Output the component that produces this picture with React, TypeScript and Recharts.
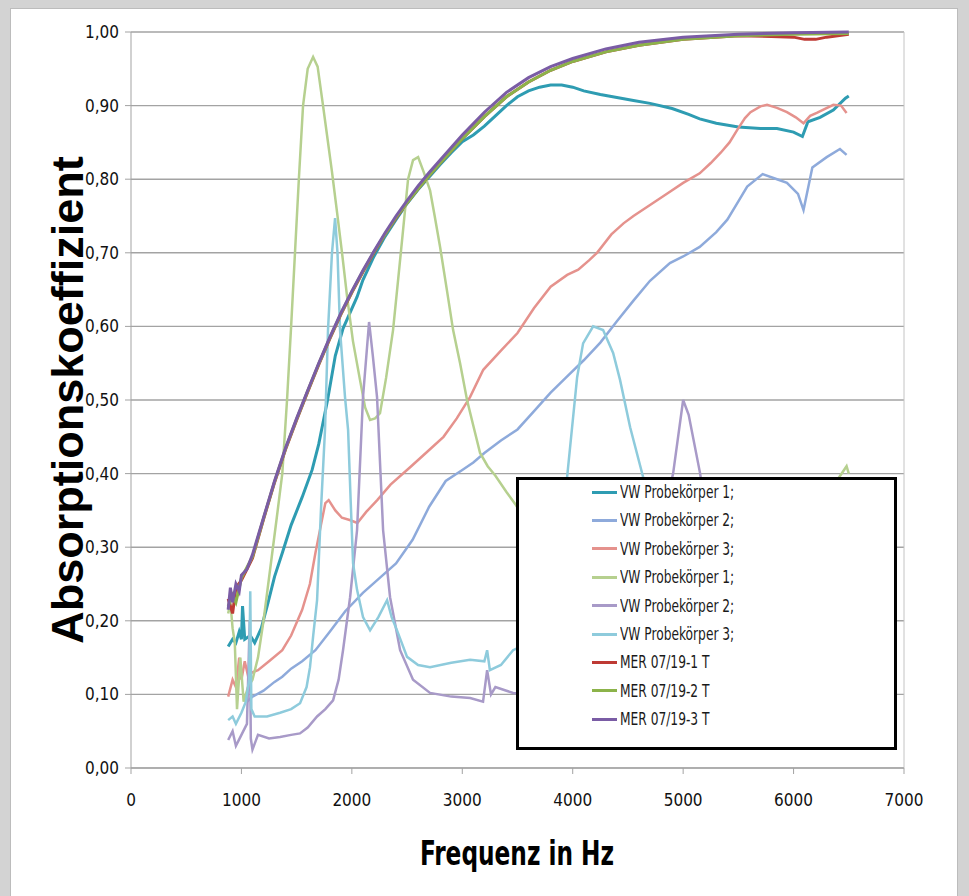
import React from 'react';
import { LineChart, Line, XAxis, YAxis, CartesianGrid, Legend, ReferenceLine } from 'recharts';

type Pt = [number, number];

const xTicks = [0, 1000, 2000, 3000, 4000, 5000, 6000, 7000];
const yTicks = [0, 0.1, 0.2, 0.3, 0.4, 0.5, 0.6, 0.7, 0.8, 0.9, 1.0];

// VW Probekörper 1; (teal)
const vwProbe1: Pt[] = [
  [880, 0.165], [920, 0.175], [950, 0.17], [980, 0.185], [1000, 0.175], [1010, 0.22], [1030, 0.175],
  [1080, 0.18], [1120, 0.17], [1180, 0.19], [1240, 0.224], [1300, 0.26], [1370, 0.292], [1450, 0.33],
  [1550, 0.368], [1640, 0.405], [1700, 0.44], [1780, 0.5], [1850, 0.56], [1920, 0.597], [2047, 0.64],
  [2100, 0.663], [2200, 0.695], [2300, 0.722], [2400, 0.745], [2500, 0.767], [2600, 0.786], [2700, 0.803],
  [2800, 0.82], [2900, 0.836], [3000, 0.851], [3100, 0.86], [3200, 0.872], [3300, 0.886], [3400, 0.9],
  [3500, 0.912], [3600, 0.92], [3700, 0.925], [3800, 0.928], [3900, 0.928], [4000, 0.925], [4100, 0.92],
  [4250, 0.915], [4400, 0.911], [4550, 0.907], [4700, 0.903], [4900, 0.896], [5050, 0.888], [5150, 0.882],
  [5300, 0.876], [5500, 0.871], [5700, 0.869], [5850, 0.869], [6000, 0.864], [6080, 0.858], [6130, 0.878],
  [6240, 0.884], [6360, 0.894], [6470, 0.91], [6500, 0.913],
];

// VW Probekörper 2; (light blue)
const vwProbe2: Pt[] = [
  [1050, 0.09], [1100, 0.097], [1200, 0.105], [1300, 0.117], [1370, 0.124], [1450, 0.135], [1550, 0.145],
  [1670, 0.16], [1800, 0.185], [1940, 0.213], [2100, 0.238], [2250, 0.258], [2400, 0.278], [2550, 0.31],
  [2700, 0.355], [2850, 0.39], [3000, 0.405], [3100, 0.415], [3200, 0.428], [3350, 0.445], [3500, 0.46],
  [3650, 0.485], [3800, 0.51], [3950, 0.532], [4100, 0.554], [4250, 0.578], [4400, 0.607], [4550, 0.635],
  [4700, 0.662], [4880, 0.686], [5000, 0.695], [5150, 0.708], [5300, 0.728], [5400, 0.745], [5500, 0.77],
  [5580, 0.79], [5720, 0.807], [5850, 0.8], [5940, 0.795], [6040, 0.78], [6090, 0.758], [6170, 0.816],
  [6300, 0.83], [6420, 0.841], [6480, 0.833],
];

// VW Probekörper 3; (salmon)
const vwProbe3: Pt[] = [
  [880, 0.097], [920, 0.12], [950, 0.11], [980, 0.15], [1000, 0.12], [1030, 0.145], [1060, 0.125],
  [1100, 0.13], [1150, 0.133], [1250, 0.145], [1370, 0.16], [1450, 0.18], [1550, 0.215], [1620, 0.25],
  [1670, 0.292], [1720, 0.33], [1760, 0.36], [1790, 0.364], [1850, 0.35], [1910, 0.34], [1980, 0.337],
  [2050, 0.333], [2130, 0.348], [2230, 0.364], [2350, 0.385], [2530, 0.409], [2700, 0.432], [2830, 0.45],
  [2950, 0.475], [3070, 0.504], [3190, 0.541], [3350, 0.567], [3500, 0.591], [3650, 0.625], [3800, 0.654],
  [3950, 0.67], [4050, 0.677], [4150, 0.69], [4220, 0.7], [4350, 0.725], [4460, 0.74], [4550, 0.75],
  [4700, 0.765], [4860, 0.781], [5000, 0.795], [5150, 0.808], [5250, 0.822], [5340, 0.836], [5420, 0.85],
  [5490, 0.867], [5560, 0.883], [5610, 0.891], [5700, 0.899], [5760, 0.901], [5850, 0.897], [5940, 0.891],
  [6020, 0.884], [6090, 0.876], [6150, 0.886], [6210, 0.89], [6360, 0.901], [6430, 0.9], [6480, 0.89],
];

// VW Probekörper 1; (light green, second set)
const vwProbe1b: Pt[] = [
  [880, 0.21], [900, 0.225], [920, 0.19], [940, 0.17], [960, 0.08], [990, 0.15], [1020, 0.09],
  [1060, 0.11], [1100, 0.12], [1150, 0.15], [1200, 0.2], [1260, 0.27], [1320, 0.34], [1370, 0.4],
  [1413, 0.5], [1450, 0.6], [1485, 0.7], [1520, 0.8], [1558, 0.9], [1600, 0.95], [1649, 0.966],
  [1690, 0.953], [1739, 0.9], [1775, 0.86], [1820, 0.81], [1866, 0.755], [1911, 0.7], [1957, 0.64],
  [2010, 0.58], [2074, 0.527], [2120, 0.49], [2165, 0.473], [2210, 0.475], [2255, 0.482], [2310, 0.53],
  [2373, 0.595], [2420, 0.665], [2464, 0.731], [2509, 0.8], [2554, 0.826], [2600, 0.83], [2650, 0.81],
  [2708, 0.785], [2750, 0.75], [2799, 0.708], [2860, 0.65], [2917, 0.595], [2980, 0.55], [3043, 0.5],
  [3100, 0.465], [3161, 0.428], [3230, 0.41], [3300, 0.397], [3400, 0.375], [3487, 0.357], [3600, 0.33],
  [3800, 0.3], [4000, 0.28], [4500, 0.26], [5000, 0.26], [5500, 0.28], [6000, 0.32], [6300, 0.37],
  [6480, 0.41], [6500, 0.4],
];

// VW Probekörper 2; (lavender, second set)
const vwProbe2b: Pt[] = [
  [880, 0.038], [920, 0.05], [950, 0.03], [1000, 0.045], [1050, 0.06], [1075, 0.2], [1085, 0.04],
  [1100, 0.025], [1150, 0.045], [1250, 0.04], [1350, 0.042], [1450, 0.045], [1530, 0.047], [1600, 0.055],
  [1685, 0.07], [1760, 0.08], [1830, 0.092], [1880, 0.12], [1920, 0.16], [1984, 0.232], [2047, 0.323],
  [2101, 0.504], [2156, 0.606], [2190, 0.56], [2228, 0.504], [2283, 0.323], [2346, 0.232], [2437, 0.16],
  [2554, 0.12], [2708, 0.102], [2900, 0.097], [3071, 0.095], [3188, 0.09], [3225, 0.133], [3260, 0.1],
  [3300, 0.11], [3400, 0.105], [3460, 0.102], [3600, 0.1], [4000, 0.105], [4400, 0.13], [4650, 0.22],
  [4800, 0.33], [4909, 0.4], [5000, 0.5], [5050, 0.48], [5154, 0.4], [5250, 0.3], [5400, 0.2],
  [5600, 0.15], [6000, 0.13], [6500, 0.12],
];

// VW Probekörper 3; (light cyan, second set)
const vwProbe3b: Pt[] = [
  [880, 0.065], [920, 0.07], [950, 0.06], [1000, 0.075], [1040, 0.09], [1070, 0.12], [1080, 0.24],
  [1090, 0.08], [1120, 0.07], [1232, 0.07], [1350, 0.075], [1450, 0.08], [1531, 0.088], [1590, 0.11],
  [1621, 0.137], [1650, 0.18], [1685, 0.228], [1720, 0.35], [1757, 0.46], [1784, 0.595], [1820, 0.7],
  [1848, 0.747], [1870, 0.7], [1893, 0.595], [1938, 0.504], [1966, 0.459], [1990, 0.36], [2011, 0.278],
  [2047, 0.242], [2101, 0.205], [2165, 0.187], [2240, 0.205], [2319, 0.228], [2360, 0.205], [2409, 0.187],
  [2500, 0.151], [2600, 0.14], [2708, 0.137], [2900, 0.143], [3071, 0.147], [3200, 0.145], [3225, 0.16],
  [3250, 0.133], [3350, 0.14], [3460, 0.16], [3600, 0.17], [3750, 0.21], [3850, 0.28], [3949, 0.395],
  [4040, 0.531], [4094, 0.577], [4185, 0.6], [4275, 0.595], [4366, 0.564], [4429, 0.527], [4520, 0.463],
  [4638, 0.395], [4750, 0.31], [4900, 0.22], [5100, 0.17], [5500, 0.16], [6000, 0.155], [6500, 0.155],
];

// MER 07/19-1 T (dark red)
const mer1: Pt[] = [
  [880, 0.23], [920, 0.21], [950, 0.245], [1000, 0.255], [1100, 0.285], [1200, 0.338], [1300, 0.388],
  [1400, 0.433], [1500, 0.473], [1600, 0.511], [1700, 0.548], [1800, 0.583], [1900, 0.616], [2000, 0.646],
  [2100, 0.674], [2200, 0.7], [2300, 0.725], [2400, 0.747], [2500, 0.768], [2600, 0.787], [2700, 0.805],
  [2800, 0.822], [3000, 0.855], [3200, 0.885], [3400, 0.912], [3600, 0.932], [3800, 0.948], [4000, 0.96],
  [4300, 0.973], [4600, 0.982], [5000, 0.99], [5500, 0.995], [5800, 0.994], [6000, 0.993], [6100, 0.99],
  [6200, 0.99], [6300, 0.993], [6500, 0.997],
];

// MER 07/19-2 T (green)
const mer2: Pt[] = [
  [880, 0.22], [920, 0.235], [950, 0.225], [1000, 0.258], [1100, 0.287], [1200, 0.339], [1300, 0.389],
  [1400, 0.434], [1500, 0.474], [1600, 0.512], [1700, 0.549], [1800, 0.584], [1900, 0.617], [2000, 0.647],
  [2100, 0.675], [2200, 0.701], [2300, 0.725], [2400, 0.748], [2500, 0.768], [2600, 0.787], [2700, 0.805],
  [2800, 0.822], [3000, 0.855], [3200, 0.885], [3400, 0.912], [3600, 0.932], [3800, 0.948], [4000, 0.96],
  [4300, 0.973], [4600, 0.982], [5000, 0.99], [5500, 0.995], [6000, 0.997], [6500, 0.998],
];

// MER 07/19-3 T (purple)
const mer3: Pt[] = [
  [880, 0.215], [900, 0.245], [920, 0.225], [950, 0.25], [980, 0.24], [1000, 0.262], [1050, 0.27],
  [1100, 0.29], [1200, 0.34], [1300, 0.39], [1400, 0.435], [1500, 0.475], [1600, 0.513], [1700, 0.55],
  [1800, 0.585], [1900, 0.618], [2000, 0.648], [2100, 0.676], [2200, 0.702], [2300, 0.727], [2400, 0.75],
  [2500, 0.771], [2600, 0.791], [2700, 0.809], [2800, 0.826], [2900, 0.843], [3000, 0.86], [3200, 0.891],
  [3400, 0.918], [3600, 0.938], [3800, 0.953], [4000, 0.964], [4300, 0.977], [4600, 0.986], [5000, 0.993],
  [5500, 0.997], [6000, 0.999], [6500, 1.0],
];

const series = [
  { name: 'VW Probekörper 1;', pts: vwProbe1, color: '#2e9cb2', w: 3 },
  { name: 'VW Probekörper 2;', pts: vwProbe2, color: '#8eaadb', w: 2.5 },
  { name: 'VW Probekörper 3;', pts: vwProbe3, color: '#e5928d', w: 2.5 },
  { name: 'VW Probekörper 1; ', pts: vwProbe1b, color: '#b6d08f', w: 2.5 },
  { name: 'VW Probekörper 2; ', pts: vwProbe2b, color: '#a89ac8', w: 2.5 },
  { name: 'VW Probekörper 3; ', pts: vwProbe3b, color: '#8ecbdc', w: 2.5 },
  { name: 'MER 07/19-1 T', pts: mer1, color: '#be3a34', w: 3 },
  { name: 'MER 07/19-2 T', pts: mer2, color: '#8cb34a', w: 3 },
  { name: 'MER 07/19-3 T', pts: mer3, color: '#7a5ca5', w: 3 },
];

const narrow = "'DejaVu Sans Condensed', 'Liberation Sans', sans-serif";
const fmt = (v: number) => v.toFixed(2).replace('.', ',');

// drawn from the series list so the order stays the same as in the original
const renderLegend = () => (
  <div style={{ position: 'relative', width: 381, height: 273, boxSizing: 'border-box', border: '3px solid #000', background: '#fff' }}>
    {series.map((s, i) => (
      <div key={i} style={{ position: 'absolute', left: 73, top: 2 + i * 28.4, height: 20, display: 'flex', alignItems: 'center' }}>
        <div style={{ width: 25, height: 3, background: s.color, marginRight: 3 }} />
        <span style={{ display: 'inline-block', fontFamily: narrow, fontSize: 17, color: '#1a1a1a', whiteSpace: 'pre', transform: 'scaleX(0.8)', transformOrigin: 'left center' }}>
          {s.name.trim()}
        </span>
      </div>
    ))}
  </div>
);

export default function App() {
  return (
    <div style={{ position: 'absolute', left: 0, top: 0, width: 969, height: 896, background: '#d3d3d3', overflow: 'hidden' }}>
      <div style={{ position: 'absolute', left: 10, top: 8, width: 946, height: 900, background: '#fff', borderLeft: '1px solid #bcbcbc', borderTop: '1px solid #bcbcbc', borderRight: '1px solid #bcbcbc' }} />
      <div style={{ position: 'absolute', left: 0, top: 0 }}>
        <LineChart width={969} height={896} margin={{ top: 32, right: 65, bottom: 88, left: 71 }}>
          <CartesianGrid vertical={false} stroke="#a3a3a3" strokeWidth={1.4} />
          <XAxis
            type="number"
            dataKey="f"
            domain={[0, 7000]}
            ticks={xTicks}
            interval={0}
            height={40}
            stroke="#a3a3a3"
            tickSize={6}
            tickMargin={20}
            tick={{ fill: '#111', fontSize: 17, fontFamily: narrow }}
            allowDuplicatedCategory={false}
          />
          <YAxis
            type="number"
            domain={[0, 1]}
            ticks={yTicks}
            interval={0}
            width={60}
            stroke="#a3a3a3"
            tickSize={6}
            tickMargin={6}
            tickFormatter={fmt}
            tick={{ fill: '#111', fontSize: 17, fontFamily: narrow }}
          />
          <ReferenceLine x={7000} stroke="#c4c4c4" strokeWidth={1} />
          {series.map((s) => (
            <Line
              key={s.name}
              name={s.name}
              data={s.pts.map(([f, v]) => ({ f, v }))}
              dataKey="v"
              type="linear"
              stroke={s.color}
              strokeWidth={s.w}
              dot={false}
              activeDot={false}
              isAnimationActive={false}
            />
          ))}
          <Legend
            layout="horizontal"
            verticalAlign="middle"
            align="center"
            content={renderLegend}
            wrapperStyle={{ left: 516, top: 477, width: 381, height: 273 }}
          />
        </LineChart>
      </div>
      <div style={{ position: 'absolute', left: 68, top: 400, transform: 'translate(-50%, -50%) rotate(-90deg)', whiteSpace: 'nowrap', fontFamily: "'Liberation Sans', Arial, sans-serif", fontWeight: 'bold', fontSize: 45, color: '#000' }}>
        Absorptionskoeffizient
      </div>
      <div style={{ position: 'absolute', left: 517, top: 853, transform: 'translate(-50%, -50%) scaleX(0.76)', whiteSpace: 'nowrap', fontFamily: narrow, fontWeight: 'bold', fontSize: 34, color: '#000' }}>
        Frequenz in Hz
      </div>
    </div>
  );
}
